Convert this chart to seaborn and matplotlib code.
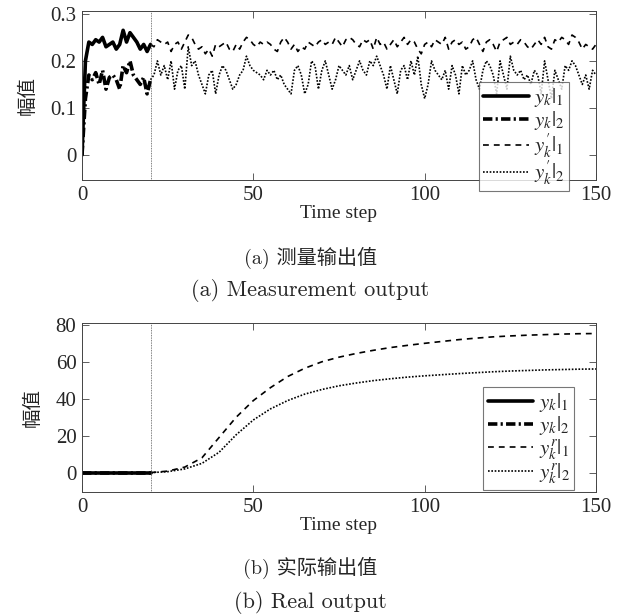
import numpy as np
import pandas as pd
import matplotlib
matplotlib.use("Agg")
import matplotlib.pyplot as plt
import seaborn as sns

# ---------------- data ----------------
k_early = list(range(0, 21))
k_late = list(range(20, 151))
k_curve = list(range(20, 151, 5))

y1_meas = [0.0, 0.20, 0.24, 0.235, 0.245, 0.24, 0.25, 0.23, 0.235, 0.24,
           0.225, 0.235, 0.265, 0.24, 0.26, 0.25, 0.24, 0.225, 0.235, 0.22,
           0.235]
y2_meas = [0.0, 0.12, 0.17, 0.16, 0.175, 0.15, 0.18, 0.14, 0.165, 0.17,
           0.16, 0.14, 0.19, 0.175, 0.20, 0.17, 0.16, 0.15, 0.165, 0.13,
           0.16]
y1p_meas = [0.235,
            0.23, 0.245, 0.24, 0.235, 0.24, 0.22, 0.235, 0.24, 0.225, 0.24,
            0.255, 0.25, 0.235, 0.225, 0.23, 0.215, 0.225, 0.21, 0.235, 0.23,
            0.235, 0.24, 0.225, 0.22, 0.235, 0.225, 0.24, 0.25, 0.245, 0.235,
            0.23, 0.24, 0.235, 0.24, 0.235, 0.225, 0.22, 0.24, 0.25, 0.24,
            0.225, 0.235, 0.22, 0.23, 0.225, 0.24, 0.235, 0.23, 0.24, 0.245,
            0.235, 0.24, 0.235, 0.25, 0.24, 0.23, 0.245, 0.25, 0.245, 0.235,
            0.23, 0.245, 0.24, 0.245, 0.225, 0.25, 0.235, 0.24, 0.225, 0.235,
            0.245, 0.23, 0.24, 0.25, 0.235, 0.245, 0.24, 0.225, 0.215, 0.235,
            0.24, 0.23, 0.245, 0.24, 0.235, 0.25, 0.225, 0.24, 0.245, 0.235,
            0.24, 0.225, 0.23, 0.245, 0.25, 0.235, 0.22, 0.24, 0.245, 0.235,
            0.22, 0.24, 0.245, 0.25, 0.235, 0.24, 0.235, 0.245, 0.24, 0.23,
            0.225, 0.235, 0.245, 0.235, 0.25, 0.23, 0.225, 0.245, 0.24, 0.25,
            0.245, 0.235, 0.255, 0.25, 0.24, 0.225, 0.235, 0.23, 0.225, 0.235]
y2p_meas = [0.16,
            0.17, 0.20, 0.17, 0.19, 0.16, 0.20, 0.14, 0.18, 0.19, 0.14,
            0.23, 0.19, 0.20, 0.17, 0.15, 0.13, 0.17, 0.18, 0.13, 0.17,
            0.19, 0.18, 0.16, 0.14, 0.15, 0.17, 0.18, 0.21, 0.19, 0.18,
            0.175, 0.17, 0.16, 0.18, 0.17, 0.18, 0.16, 0.17, 0.15, 0.14,
            0.13, 0.18, 0.19, 0.17, 0.13, 0.15, 0.20, 0.19, 0.14, 0.18,
            0.20, 0.17, 0.14, 0.16, 0.19, 0.18, 0.17, 0.19, 0.16, 0.18,
            0.20, 0.18, 0.17, 0.20, 0.19, 0.21, 0.19, 0.17, 0.14, 0.19,
            0.16, 0.13, 0.18, 0.19, 0.16, 0.20, 0.17, 0.21, 0.15, 0.12,
            0.15, 0.20, 0.18, 0.17, 0.16, 0.18, 0.14, 0.19, 0.17, 0.13,
            0.19, 0.17, 0.18, 0.20, 0.16, 0.14, 0.18, 0.20, 0.19, 0.17,
            0.13, 0.20, 0.17, 0.14, 0.21, 0.18, 0.17, 0.18, 0.16, 0.17,
            0.15, 0.18, 0.17, 0.13, 0.20, 0.16, 0.12, 0.18, 0.16, 0.14,
            0.19, 0.18, 0.20, 0.19, 0.17, 0.15, 0.17, 0.14, 0.18, 0.17]

y1_real = [0.0] * 21
y2_real = [0.0] * 21
y1r_real = [0.0, 0.8, 3.0, 8.0, 19.0, 30.0, 39.0, 46.0, 52.0, 56.5, 60.0,
            62.5, 64.5, 66.2, 67.7, 68.9, 70.0, 71.0, 72.0, 72.8, 73.5,
            74.0, 74.4, 74.7, 75.0, 75.2, 75.3]
y2r_real = [0.0, 0.5, 2.0, 5.0, 11.0, 20.5, 28.5, 34.5, 39.0, 42.5, 45.0,
            47.0, 48.5, 49.8, 50.8, 51.7, 52.4, 53.0, 53.6, 54.1, 54.6,
            55.0, 55.3, 55.6, 55.8, 56.0, 56.1]

xticks = [0, 50, 100, 150]
yticks_a = [0, 0.1, 0.2, 0.3]
ytick_labels_a = ["0", "0.1", "0.2", "0.3"]
yticks_b = [0, 20, 40, 60, 80]

# ---------------- style ----------------
sns.set_style("ticks")
plt.rcParams["font.family"] = ["Liberation Serif", "Noto Sans CJK SC"]
plt.rcParams["mathtext.fontset"] = "stix"
plt.rcParams["xtick.direction"] = "in"
plt.rcParams["ytick.direction"] = "in"

fig = plt.figure(figsize=(6.21, 6.15), dpi=100)
W, H = 621, 615


def axes_px(left, top, right, bottom):
    return fig.add_axes([left / W, 1 - bottom / H, (right - left) / W, (bottom - top) / H])


axA = axes_px(82, 11, 596, 180)
axB = axes_px(82, 323, 596, 492)

thick = 2.6
thin = 1.2


def draw(ax, k1, a, b, k2, c, d, labels):
    sns.lineplot(x=k1, y=a, ax=ax, color="black", lw=thick, linestyle="-", label=labels[0])
    l2 = sns.lineplot(x=k1, y=b, ax=ax, color="black", lw=thick, label=labels[1]).lines[-1]
    l2.set_dashes([2.6, 0.9, 0.6, 0.9])
    l3 = sns.lineplot(x=k2, y=c, ax=ax, color="black", lw=thin, label=labels[2]).lines[-1]
    l3.set_dashes([3.5, 3])
    l4 = sns.lineplot(x=k2, y=d, ax=ax, color="black", lw=thin, label=labels[3]).lines[-1]
    l4.set_dashes([1, 1])
    ax.axvline(20, color="#555555", lw=0.6, linestyle=(0, (1, 1)))
    ax.set_xlim(0, 150)
    ax.set_xticks(xticks)
    ax.tick_params(axis="both", which="both", top=True, right=True, labelsize=15,
                   length=5, width=0.6, color="#444444", pad=4)
    for s in ax.spines.values():
        s.set_linewidth(0.7)
        s.set_color("#444444")
    ax.set_xlabel("Time step", fontsize=14, labelpad=0)
    ax.set_ylabel("幅值", fontsize=14, labelpad=10)


draw(axA, k_early, y1_meas, y2_meas, k_late, y1p_meas, y2p_meas,
     [r"$y_k|_1$", r"$y_k|_2$", r"$y_k^{\prime}|_1$", r"$y_k^{\prime}|_2$"])
axA.set_ylim(-0.053, 0.306)
axA.set_yticks(yticks_a)
axA.set_yticklabels(ytick_labels_a)

draw(axB, k_early, y1_real, y2_real, k_curve, y1r_real, y2r_real,
     [r"$y_k|_1$", r"$y_k|_2$", r"$y_k^r|_1$", r"$y_k^r|_2$"])
axB.set_ylim(-10.5, 81)
axB.set_yticks(yticks_b)

for ax, anchor in [(axA, (0.947, -0.065)), (axB, (0.957, 0.01))]:
    leg = ax.legend(loc="lower right", bbox_to_anchor=anchor, fontsize=15,
                    frameon=True, fancybox=False, handlelength=2.2,
                    labelspacing=0.0, borderpad=0.2, handletextpad=0.25,
                    borderaxespad=0)
    leg.get_frame().set_edgecolor("#555555")
    leg.get_frame().set_linewidth(0.8)
    leg.set_zorder(10)

fig.text(0.5, 1 - 258 / H, "(a) 测量输出值", family=["cmr10", "Noto Sans CJK SC"],
         ha="center", va="center", fontsize=14.5)
fig.text(0.5, 1 - 291 / H, "(a) Measurement output", family=["cmr10"],
         ha="center", va="center", fontsize=16)
fig.text(0.5, 1 - 568 / H, "(b) 实际输出值", family=["cmr10", "Noto Sans CJK SC"],
         ha="center", va="center", fontsize=14.5)
fig.text(0.5, 1 - 602 / H, "(b) Real output", family=["cmr10"],
         ha="center", va="center", fontsize=16)

fig.savefig("out.png", dpi=100)
